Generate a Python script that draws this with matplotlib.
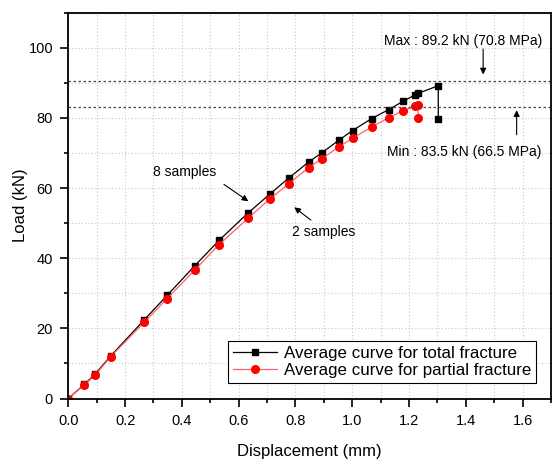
import matplotlib
matplotlib.use("Agg")
import matplotlib.pyplot as plt
from matplotlib.ticker import MultipleLocator

plt.rcParams["font.family"] = ["Liberation Sans", "DejaVu Sans"]

# average curve, total fracture (8 samples)
disp_total = [0, 0.056, 0.094, 0.149, 0.267, 0.348, 0.446, 0.531, 0.633, 0.710,
              0.777, 0.846, 0.892, 0.952, 1.001, 1.068, 1.129, 1.180, 1.222,
              1.232, 1.303, 1.303]
load_total = [0, 4.0, 6.9, 12.1, 22.4, 29.4, 37.9, 45.1, 52.9, 58.3,
              62.9, 67.4, 70.0, 73.6, 76.4, 79.8, 82.4, 84.8, 86.6,
              87.0, 89.2, 79.8]

# average curve, partial fracture (2 samples)
disp_partial = [0, 0.056, 0.094, 0.149, 0.267, 0.348, 0.446, 0.531, 0.633, 0.710,
                0.777, 0.846, 0.892, 0.952, 1.001, 1.068, 1.129, 1.180, 1.222,
                1.230, 1.233]
load_partial = [0, 3.9, 6.6, 11.9, 21.7, 28.5, 36.7, 43.9, 51.4, 56.9,
                61.3, 65.8, 68.3, 71.7, 74.2, 77.4, 80.1, 82.1, 83.4,
                83.7, 80.0]

max_line = 90.5
min_line = 83.2

fig = plt.figure(figsize=(5.54, 4.59), dpi=100)
ax = fig.add_axes([0.1233, 0.1318, 0.8713, 0.8405])

ax.plot(disp_total, load_total, color="black", lw=0.9, marker="s", ms=5,
        label="Average curve for total fracture")
ax.plot(disp_partial, load_partial, color="#ff6060", lw=0.9, marker="o", ms=5.5,
        markerfacecolor="red", markeredgecolor="red",
        label="Average curve for partial fracture")

ax.axhline(max_line, color="#444444", lw=0.9, ls=(0, (2, 2)))
ax.axhline(min_line, color="#444444", lw=0.9, ls=(0, (2, 2)))

ax.set_xlim(0, 1.7)
ax.set_ylim(0, 110)
ax.xaxis.set_major_locator(MultipleLocator(0.2))
ax.xaxis.set_minor_locator(MultipleLocator(0.1))
ax.yaxis.set_major_locator(MultipleLocator(20))
ax.yaxis.set_minor_locator(MultipleLocator(10))
ax.xaxis.set_major_formatter(plt.FuncFormatter(lambda v, p: f"{v:.1f}"))
ax.grid(which="both", color="#c8c8c8", ls=(0, (1, 2)), lw=0.8)
ax.set_axisbelow(True)

ax.tick_params(which="major", direction="out", length=6, width=1.2, labelsize=10.5, pad=5)
ax.tick_params(which="minor", direction="out", length=3, width=1.2)
for s in ax.spines.values():
    s.set_linewidth(1.3)

ax.set_xlabel("Displacement (mm)", fontsize=12, labelpad=12)
ax.set_ylabel("Load (kN)", fontsize=12, labelpad=0)

arrow = dict(arrowstyle="-|>", color="black", lw=0.8, mutation_scale=9)
ax.annotate("8 samples", xy=(0.642, 55.8), xytext=(0.411, 64.7), fontsize=10,
            ha="center", va="center")
ax.annotate("", xy=(0.642, 55.8), xytext=(0.540, 61.5), arrowprops=arrow)
ax.annotate("2 samples", xy=(0.788, 55.0), xytext=(0.900, 47.6), fontsize=10,
            ha="center", va="center")
ax.annotate("", xy=(0.788, 55.0), xytext=(0.862, 50.4), arrowprops=arrow)
ax.text(1.390, 101.9, "Max : 89.2 kN (70.8 MPa)", fontsize=10, ha="center", va="center")
ax.annotate("", xy=(1.461, 91.6), xytext=(1.461, 100.4), arrowprops=arrow)
ax.text(1.395, 70.4, "Min : 83.5 kN (66.5 MPa)", fontsize=10, ha="center", va="center")
ax.annotate("", xy=(1.579, 83.0), xytext=(1.579, 74.4), arrowprops=arrow)

leg = ax.legend(loc="lower right", fontsize=12.2, fancybox=False, edgecolor="black",
                framealpha=1, borderpad=0.3, labelspacing=0.15, handlelength=2.6,
                handletextpad=0.4, bbox_to_anchor=(0.987, 0.017))
leg.get_frame().set_linewidth(0.8)

fig.savefig("out.png", dpi=100)
